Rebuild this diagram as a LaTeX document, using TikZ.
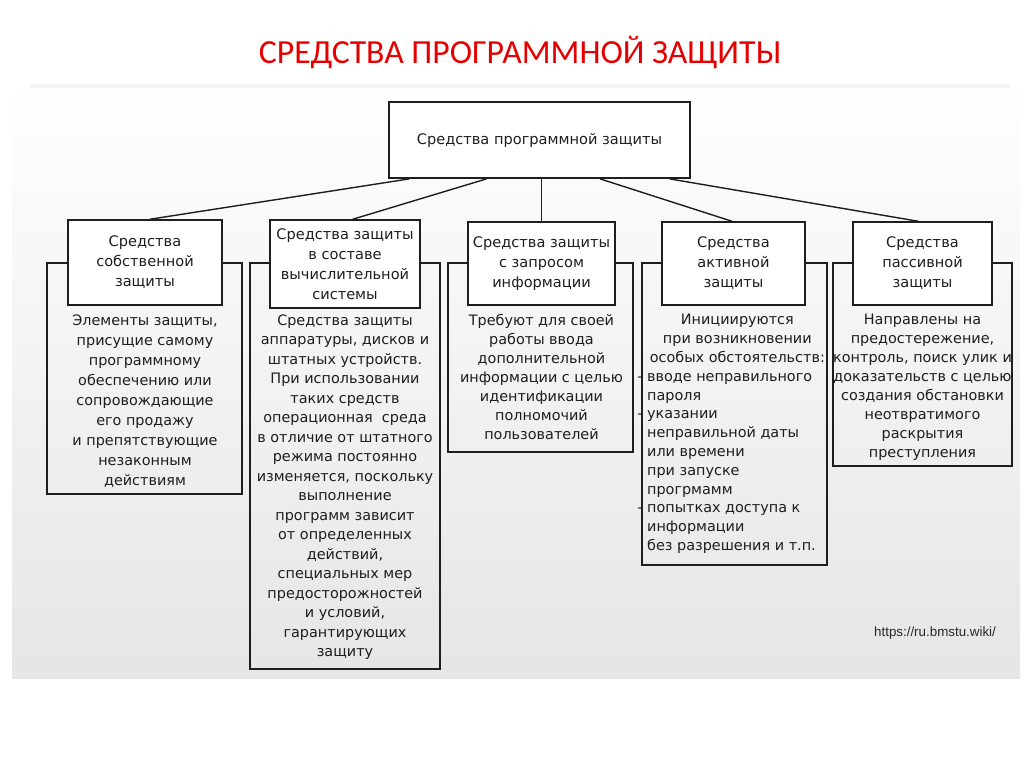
\documentclass[tikz,border=0pt]{standalone}
\usepackage{fontspec}
\setmainfont{DejaVu Sans}
\newfontfamily\titlefont{Carlito}
\newfontfamily\urlfont{Liberation Sans}
\usetikzlibrary{calc,fit,positioning}

\definecolor{titlered}{RGB}{228,0,0}
\definecolor{inkgray}{RGB}{30,30,30}

\newcommand{\contline}{\phantom{- }}
\newcommand{\px}{0.02cm}

\tikzset{
  head/.style n args={2}{draw=inkgray, fill=white, line width=0.8pt, inner sep=0pt,
    minimum width=#1*\px, minimum height=#2*\px,
    align=center, text=inkgray, font=\fontsize{8.3}{11.4}\selectfont},
  bodybox/.style={draw=inkgray, line width=0.8pt, inner sep=0pt},
  bodytext/.style={inner sep=0pt, align=center, text=inkgray,
    font=\fontsize{8.2}{#1}\selectfont},
  link/.style={draw=inkgray, line width=0.8pt},
}

\begin{document}
\begin{tikzpicture}[x=0.02cm,y=-0.02cm]
  \useasboundingbox (0,0) rectangle (1024,767);
  \fill[white] (0,0) rectangle (1024,767);

  % screenshot area behind the chart
  \shade[top color=white, bottom color=gray!20] (12,80) rectangle (1020,678);
  \fill[gray!8] (30,84) rectangle (1010,88);

  \node[text=titlered, font=\titlefont\fontsize{19.2}{22}\selectfont] (title) at (520,53)
    {СРЕДСТВА ПРОГРАММНОЙ ЗАЩИТЫ};

  % root
  \node[head={301}{76}, line width=1pt] (root) at (539.5,140) {Средства программной защиты};

  % lower boxes go first, the headers cover their tops
  \node[bodybox, fit={(47,263) (242,494)}] (b1) {};
  \node[bodybox, fit={(250,263) (440,669)}] (b2) {};
  \node[bodybox, fit={(448,263) (633,452)}] (b3) {};
  \node[bodybox, fit={(642,263) (827,565)}] (b4) {};
  \node[bodybox, fit={(833,263) (1012,466)}] (b5) {};

  \node[head={154}{85}] (h1) at (145,262.5) {Средства\\собственной\\защиты};
  \node[head={150}{88}] (h2) at (345,264) {Средства защиты\\в составе\\вычислительной\\системы};
  \node[head={147}{83}] (h3) at (541.5,263.5) {Средства защиты\\с запросом\\информации};
  \node[head={143}{83}] (h4) at (733.5,263.5) {Средства\\активной\\защиты};
  \node[head={139}{83}] (h5) at (922.5,263.5) {Средства\\пассивной\\защиты};

  % connectors
  \draw[link] ($(root.south west)!0.07!(root.south east)$) -- ($(h1.north west)!0.53!(h1.north east)$);
  \draw[link] ($(root.south west)!0.325!(root.south east)$) -- ($(h2.north west)!0.55!(h2.north east)$);
  \draw[link] (root.south -| h3.north) -- (h3.north);
  \draw[link] ($(root.south west)!0.70!(root.south east)$) -- ($(h4.north west)!0.49!(h4.north east)$);
  \draw[link] ($(root.south west)!0.93!(root.south east)$) -- ($(h5.north west)!0.47!(h5.north east)$);

  % texts of the lower boxes
  \coordinate (textline) at (0,314);
  \coordinate (listx) at (637,314);

  \node[bodytext=11.4, anchor=north] (t1) at (h1 |- textline)
    {Элементы защиты,\\присущие самому\\программному\\обеспечению или\\сопровождающие\\его продажу\\и препятствующие\\незаконным\\действиям};
  \node[bodytext=11.1, anchor=north] (t2) at (h2 |- textline)
    {Средства защиты\\аппаратуры, дисков и\\штатных устройств.\\При использовании\\таких средств\\операционная~ среда\\в отличие от штатного\\режима постоянно\\изменяется, поскольку\\выполнение\\программ зависит\\от определенных\\действий,\\специальных мер\\предосторожностей\\и условий,\\гарантирующих\\защиту};
  \node[bodytext=10.8, anchor=north] (t3) at (h3 |- textline)
    {Требуют для своей\\работы ввода\\дополнительной\\информации с целью\\идентификации\\полномочий\\пользователей};
  \node[bodytext=10.7, anchor=north west, align=none, text width=4cm] (t4) at (listx)
    {{\centering Инициируются\\при возникновении\\особых обстоятельств:\par}
     \raggedright
     - вводе неправильного\\
     \contline пароля\\
     - указании\\
     \contline неправильной даты\\
     \contline или времени\\
     \contline при запуске\\
     \contline прогрмамм\\
     - попытках доступа к\\
     \contline информации\\
     \contline без разрешения и т.п.};
  \node[bodytext=10.8, anchor=north] (t5) at (h5 |- textline)
    {Направлены на\\предостережение,\\контроль, поиск улик и\\доказательств с целью\\создания обстановки\\неотвратимого\\раскрытия\\преступления};

  \node[text=gray!30!black, font=\urlfont\fontsize{7.6}{9}\selectfont] (source) at (935,633)
    {https://ru.bmstu.wiki/};
\end{tikzpicture}
\end{document}
